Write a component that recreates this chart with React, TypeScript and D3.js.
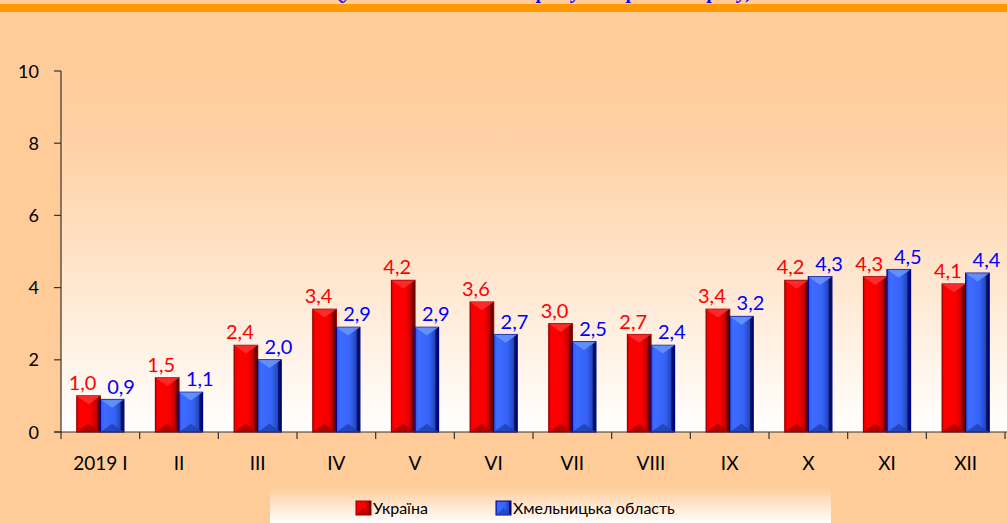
import React from "react";
import * as d3 from "d3";

const categories = ["2019 I", "II", "III", "IV", "V", "VI", "VII", "VIII", "IX", "X", "XI", "XII"];
const ukraine = [1.0, 1.5, 2.4, 3.4, 4.2, 3.6, 3.0, 2.7, 3.4, 4.2, 4.3, 4.1];
const khmelnytska = [0.9, 1.1, 2.0, 2.9, 2.9, 2.7, 2.5, 2.4, 3.2, 4.3, 4.5, 4.4];
const yTicks = [0, 2, 4, 6, 8, 10];
const seriesNames = ["Україна", "Хмельницька область"];
const titleText = "(у % до відповідного періоду попереднього року)";

const W = 1007;
const H = 523;
const FONT = "Lato, 'Open Sans', sans-serif";

export default function App() {
  const left = 61;
  const right = 1005;
  const top = 71;
  const bottom = 432;

  const x = d3.scaleBand<string>().domain(categories).range([left, right]).paddingInner(0).paddingOuter(0);
  const x1 = d3.scaleBand<string>().domain(["ua", "kh"]).range([0, x.bandwidth()]).paddingInner(0).paddingOuter(0.67);
  const y = d3.scaleLinear().domain([0, 10]).range([bottom, top]);
  const fmt = (v: number) => d3.format(".1f")(v).replace(".", ",");

  const series = [
    { key: "ua", values: ukraine, fill: "url(#gRed)", stroke: "#9a0000", top: "#ff3030", bot: "#a00000", label: "#ff0000", dx: -6 },
    { key: "kh", values: khmelnytska, fill: "url(#gBlue)", stroke: "#000090", top: "#6b95ff", bot: "#1f3fb0", label: "#0000ff", dx: 9 },
  ];

  const boundaries = d3.range(categories.length + 1).map((i) => (i < categories.length ? (x(categories[i]) as number) : right));

  return (
    <svg width={W} height={H} style={{ position: "absolute", left: 0, top: 0 }} fontFamily={FONT}>
      <defs>
        <linearGradient id="gPlot" x1="0" y1="0" x2="0" y2="1">
          <stop offset="0" stopColor="#ffcc99" />
          <stop offset="0.25" stopColor="#ffd2a8" />
          <stop offset="1" stopColor="#ffffff" />
        </linearGradient>
        <linearGradient id="gLegend" x1="0" y1="0" x2="0" y2="1">
          <stop offset="0" stopColor="#ffcc99" />
          <stop offset="1" stopColor="#ffffff" />
        </linearGradient>
        <linearGradient id="gRed" x1="0" y1="0" x2="1" y2="0">
          <stop offset="0" stopColor="#d80000" />
          <stop offset="0.12" stopColor="#ff0000" />
          <stop offset="0.6" stopColor="#f80000" />
          <stop offset="0.84" stopColor="#c00000" />
          <stop offset="0.88" stopColor="#700000" />
          <stop offset="1" stopColor="#500000" />
        </linearGradient>
        <linearGradient id="gBlue" x1="0" y1="0" x2="1" y2="0">
          <stop offset="0" stopColor="#2a55e8" />
          <stop offset="0.15" stopColor="#3d6cff" />
          <stop offset="0.6" stopColor="#3563f5" />
          <stop offset="0.84" stopColor="#2446c0" />
          <stop offset="0.88" stopColor="#0a1a70" />
          <stop offset="1" stopColor="#000050" />
        </linearGradient>
      </defs>

      <rect x={0} y={0} width={W} height={H} fill="#ffcc99" />
      <text x={545} y={-2} textAnchor="middle" fill="#0000ff" fontFamily="'Liberation Serif', serif" fontStyle="italic" fontWeight="bold" fontSize={20}>
        {titleText}
      </text>
      <rect x={0} y={4} width={W} height={8} fill="#ff9900" />

      <rect x={left} y={top - 10} width={W - left} height={bottom - top + 10} fill="url(#gPlot)" />

      {series.map((s) =>
        s.values.map((v, i) => {
          const bx = (x(categories[i]) as number) + (x1(s.key) as number);
          const bw = x1.bandwidth();
          const by = y(v);
          const bh = y(0) - by;
          const b = bw * 0.35;
          return (
            <g key={s.key + i}>
              <rect x={bx} y={by} width={bw} height={bh} fill={s.fill} stroke={s.stroke} strokeWidth={1.2} />
              <polygon points={`${bx},${by} ${bx + bw},${by} ${bx + bw / 2},${by + b}`} fill={s.top} opacity={0.85} />
              <polygon points={`${bx},${y(0)} ${bx + bw},${y(0)} ${bx + bw / 2},${y(0) - b}`} fill={s.bot} opacity={0.8} />
              <text x={bx + bw / 2 + s.dx} y={by - 6} textAnchor="middle" fill={s.label} fontSize={20}>
                {fmt(v)}
              </text>
            </g>
          );
        })
      )}

      {/* axes */}
      <line x1={left} x2={left} y1={top} y2={bottom} stroke="#333" strokeWidth={1.2} />
      {yTicks.map((t) => (
        <g key={t}>
          <line x1={left - 7} x2={left} y1={y(t)} y2={y(t)} stroke="#333" strokeWidth={1.2} />
          <text x={39} y={y(t) + 6.5} textAnchor="end" fontSize={18} fill="#000">
            {t}
          </text>
        </g>
      ))}
      <line x1={left - 7} x2={W} y1={bottom} y2={bottom} stroke="#333" strokeWidth={1.2} />
      {boundaries.map((bx, i) => (
        <line key={i} x1={bx} x2={bx} y1={bottom} y2={bottom + 7} stroke="#333" strokeWidth={1.2} />
      ))}
      {categories.map((c) => (
        <text key={c} x={(x(c) as number) + x.bandwidth() / 2} y={470} textAnchor="middle" fontSize={19} fill="#000">
          {c}
        </text>
      ))}

      {/* legend */}
      <rect x={270} y={487} width={561} height={36} fill="url(#gLegend)" />
      {[
        { x: 356, name: seriesNames[0], fill: "url(#gRed)", stroke: "#9a0000", tri: "#a00000" },
        { x: 496, name: seriesNames[1], fill: "url(#gBlue)", stroke: "#000090", tri: "#1f3fb0" },
      ].map((l) => (
        <g key={l.name}>
          <rect x={l.x} y={501} width={15} height={14} fill={l.fill} stroke={l.stroke} strokeWidth={1} />
          <polygon points={`${l.x},515 ${l.x + 15},515 ${l.x + 7.5},508`} fill={l.tri} opacity={0.7} />
          <text x={l.x + 17} y={514} fontSize={16} fill="#000">
            {l.name}
          </text>
        </g>
      ))}
    </svg>
  );
}
